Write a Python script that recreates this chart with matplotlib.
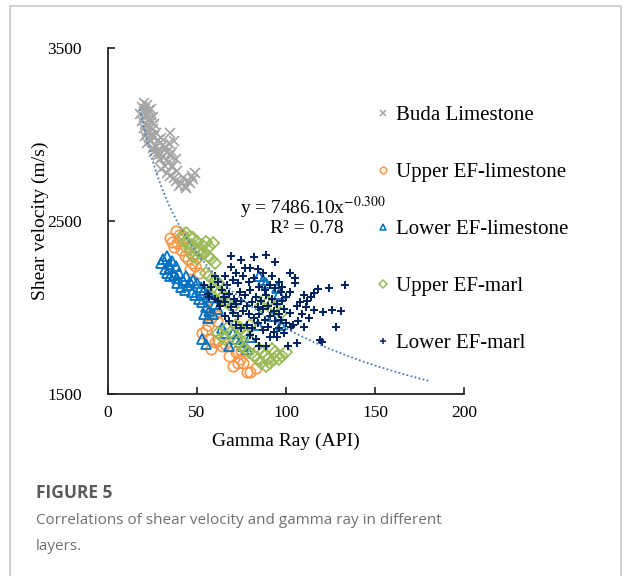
import numpy as np
import matplotlib
matplotlib.use("Agg")
import matplotlib.pyplot as plt
from matplotlib.lines import Line2D
from matplotlib.patches import Rectangle

plt.rcParams["font.family"] = ["Liberation Serif", "DejaVu Serif"]
plt.rcParams["mathtext.fontset"] = "stix"

# ---- data: gamma ray (API) and shear velocity (m/s) per layer ----
buda_gr = [18, 19, 20, 21, 22, 23, 19, 20, 21, 22,
           23, 24, 20, 21, 22, 23, 24, 25, 21, 22,
           23, 24, 25, 26, 22, 24, 26, 27, 28, 25,
           27, 29, 30, 31, 28, 30, 32, 33, 34, 29,
           31, 33, 35, 36, 37, 32, 34, 36, 38, 30,
           33, 35, 37, 39, 41, 43, 45, 47, 49, 40,
           42, 44, 46, 48, 38, 36, 26, 28, 24, 35]
buda_vs = [3120, 3160, 3180, 3150, 3170, 3140, 3080, 3100, 3130, 3110,
           3090, 3150, 3040, 3060, 3020, 3050, 3070, 3100, 2990, 3010,
           2980, 3000, 3030, 3060, 2950, 2960, 2990, 3010, 2970, 2920,
           2930, 2950, 2980, 2940, 2900, 2890, 2920, 2900, 2950, 2860,
           2870, 2850, 2880, 2900, 2960, 2820, 2840, 2810, 2860, 2800,
           2780, 2760, 2750, 2790, 2720, 2700, 2730, 2760, 2780, 2700,
           2750, 2690, 2720, 2740, 2730, 2820, 2900, 2880, 3000, 3010]

upper_lime_gr = [38, 40, 36, 39, 42, 44, 41, 37, 35, 43,
                 45, 47, 49, 46, 48, 51, 57, 59, 60, 58,
                 61, 55, 53, 57, 60, 62, 64, 66, 58, 56,
                 72, 74, 76, 78, 80, 83, 70, 68, 75, 73]
upper_lime_vs = [2440, 2420, 2380, 2370, 2400, 2350, 2330, 2350, 2400, 2300,
                 2280, 2260, 2240, 2220, 2300, 2200, 2050, 2000, 1960, 1940,
                 1920, 1870, 1850, 1820, 1800, 1810, 1780, 1790, 1760, 1900,
                 1740, 1700, 1680, 1630, 1630, 1650, 1660, 1720, 1750, 1680]

lower_lime_gr = [30, 31, 33, 34, 35, 32, 33, 36, 38, 35,
                 37, 39, 40, 42, 39, 41, 44, 46, 43, 45,
                 48, 50, 47, 49, 52, 54, 51, 53, 56, 58,
                 55, 57, 60, 62, 54, 56, 59, 53, 55, 70,
                 72, 74, 76, 68, 78, 85, 87, 89, 95, 96,
                 97, 84, 64, 66, 92, 80]
lower_lime_vs = [2260, 2280, 2300, 2250, 2230, 2220, 2200, 2270, 2240, 2180,
                 2190, 2170, 2200, 2160, 2140, 2120, 2180, 2150, 2100, 2130,
                 2160, 2140, 2090, 2070, 2120, 2100, 2050, 2030, 2080, 2060,
                 2000, 1980, 2020, 1990, 1960, 1940, 1960, 1820, 1790, 1850,
                 1820, 1800, 1780, 1780, 1760, 2180, 2160, 2140, 2110, 2080,
                 1900, 1900, 1880, 1850, 1950, 1830]

upper_marl_gr = [42, 44, 46, 48, 50, 43, 45, 47, 49, 51,
                 53, 55, 57, 59, 52, 54, 56, 58, 60, 50,
                 48, 46, 55, 57, 60, 62, 59, 61, 63, 65,
                 64, 66, 68, 70, 67, 69, 62, 64, 66, 72,
                 74, 76, 78, 80, 73, 75, 77, 79, 82, 84,
                 86, 88, 90, 85, 87, 89, 91, 93, 95, 92,
                 94, 96, 98, 100, 88, 90, 86, 92, 94, 97]
upper_marl_vs = [2420, 2430, 2410, 2400, 2380, 2380, 2370, 2360, 2340, 2330,
                 2360, 2380, 2350, 2370, 2310, 2320, 2300, 2280, 2260, 2280,
                 2300, 2340, 2200, 2180, 2160, 2140, 2120, 2100, 2090, 2070,
                 2060, 2040, 2020, 2000, 1880, 1860, 1850, 1830, 1820, 1900,
                 1880, 1860, 1840, 1900, 1800, 1780, 1760, 1740, 1720, 1700,
                 1680, 1720, 1700, 1760, 1740, 1660, 1680, 1700, 1720, 1760,
                 1740, 1700, 1720, 1740, 2050, 2030, 2010, 1990, 2000, 1970]

lower_marl_gr = [69, 75, 82, 89, 94, 102, 105, 105, 102, 96,
                 110, 80, 84, 72, 69, 66, 62, 58, 56, 60,
                 64, 67, 70, 73, 76, 79, 82, 85, 88, 91,
                 94, 97, 100, 65, 68, 71, 74, 77, 80, 83,
                 86, 89, 92, 95, 98, 63, 66, 69, 72, 75,
                 78, 81, 84, 87, 90, 93, 96, 99, 102, 70,
                 73, 76, 79, 82, 85, 88, 91, 94, 97, 100,
                 78, 81, 84, 87, 90, 93, 96, 99, 104, 107,
                 133, 124, 118, 116, 114, 111, 116, 121, 126, 131,
                 128, 110, 119, 120, 103, 95, 89, 85, 101, 106,
                 108, 112, 106, 109, 113, 98, 92, 87, 77, 60,
                 54, 57, 62, 66, 68, 72, 75, 80, 83, 91]
lower_marl_vs = [2300, 2275, 2290, 2305, 2265, 2200, 2170, 2140, 2090, 2150,
                 2070, 2230, 2220, 2200, 2235, 2180, 2150, 2120, 2080, 2050,
                 2100, 2130, 2160, 2140, 2180, 2150, 2170, 2120, 2100, 2130,
                 2110, 2090, 2060, 2060, 2080, 2050, 2090, 2070, 2100, 2060,
                 2040, 2070, 2050, 2020, 2040, 2010, 2030, 2000, 2020, 2040,
                 2010, 2030, 2000, 1990, 2010, 1980, 1960, 1990, 1970, 1970,
                 1950, 1980, 1960, 1940, 1960, 1930, 1950, 1920, 1930, 1910,
                 1900, 1880, 1910, 1870, 1890, 1860, 1880, 1850, 1900, 1920,
                 2130, 2110, 2105, 2085, 2060, 2000, 1985, 1975, 1985, 1980,
                 1890, 1890, 1810, 1800, 1890, 1830, 1775, 1775, 1775, 1795,
                 2030, 2040, 2010, 1960, 1940, 2120, 2180, 2200, 2230, 2180,
                 2130, 2060, 2040, 1950, 1920, 1900, 1880, 1840, 1820, 1830]

# power-law fit  y = a * x^b
fit_a = 7486.10
fit_b = -0.300
fit_r2 = 0.78
fit_range = (18, 180)

series = [
    ("Buda Limestone", buda_gr, buda_vs,
     dict(marker="x", color="#A5A5A5", ms=7, mew=1.2, fill=False)),
    ("Upper EF-limestone", upper_lime_gr, upper_lime_vs,
     dict(marker="o", color="#F79646", ms=7.5, mew=1.2, fill=True)),
    ("Lower EF-limestone", lower_lime_gr, lower_lime_vs,
     dict(marker="^", color="#0070C0", ms=7.5, mew=1.3, fill=True)),
    ("Upper EF-marl", upper_marl_gr, upper_marl_vs,
     dict(marker="D", color="#9BBB59", ms=6.5, mew=1.3, fill=True)),
    ("Lower EF-marl", lower_marl_gr, lower_marl_vs,
     dict(marker="+", color="#002060", ms=6.2, mew=1.4, fill=False)),
]

W, H = 625, 576
fig = plt.figure(figsize=(W / 100, H / 100), dpi=100)
fig.patch.set_facecolor("white")

# outer panel frame
fig.patches.append(Rectangle((10 / W, -0.05), 611 / W, 1.05 - 6 / H,
                             transform=fig.transFigure, fill=False,
                             edgecolor="#C8C8C8", lw=1.2))

ax = fig.add_axes([108 / W, 1 - 394 / H, 356 / W, 346 / H])

handles = []
for label, gr, vs, st in series:
    kw = dict(marker=st["marker"], linestyle="none", markersize=st["ms"],
              markeredgewidth=st["mew"], markeredgecolor=st["color"])
    if st["fill"]:
        kw["markerfacecolor"] = "none"
    ax.plot(gr, vs, **kw)
    hkw = dict(kw)
    hkw["markersize"] = st["ms"] * 0.62
    hkw["markeredgewidth"] = 1.1
    handles.append(Line2D([], [], label=label, **hkw))

xf = np.linspace(fit_range[0], fit_range[1], 300)
ax.plot(xf, fit_a * xf ** fit_b, linestyle=(0, (1, 1.3)), color="#4A7EBB", lw=1.3)

ax.set_xlim(0, 200)
ax.set_ylim(1500, 3500)
ax.set_xticks([0, 50, 100, 150, 200])
ax.set_yticks([1500, 2500, 3500])
for s in ("top", "right"):
    ax.spines[s].set_visible(False)
for s in ("left", "bottom"):
    ax.spines[s].set_linewidth(1.3)
    ax.spines[s].set_color("#222222")
ax.tick_params(direction="in", length=5, width=1.2, color="#222222",
               labelsize=12.5)
ax.tick_params(axis="x", pad=8)
ax.tick_params(axis="y", pad=19)

ax.set_xlabel("Gamma Ray (API)", fontsize=14, labelpad=8)
ax.set_ylabel("Shear velocity (m/s)", fontsize=14)
ax.yaxis.set_label_coords(-0.165, 0.5)

ax.text(74, 2575, r"y = %.2fx$^{\mathrm{%.3f}}$" % (fit_a, fit_b),
        fontsize=14, ha="left", va="center")
ax.text(91, 2455, "R² = %.2f" % fit_r2, fontsize=14, ha="left", va="center")

fig.legend(handles=handles, loc="upper left",
           bbox_to_anchor=(366 / W, 1 - 95 / H), frameon=False,
           fontsize=15, labelspacing=1.8, handlelength=0.6,
           handletextpad=0.35, borderpad=0)

# caption
cap_font = ["Open Sans", "DejaVu Sans"]
fig.text(36 / W, 1 - 493 / H, "FIGURE 5", fontsize=12.5, fontweight="bold",
         color="#5A5A5A", family=cap_font, va="center")
fig.text(36 / W, 1 - 521 / H, "Correlations of shear velocity and gamma ray in different",
         fontsize=11, color="#707070", family=cap_font, va="center")
fig.text(36 / W, 1 - 546 / H, "layers.", fontsize=11, color="#707070",
         family=cap_font, va="center")

fig.savefig("out.png", dpi=100, facecolor="white")
